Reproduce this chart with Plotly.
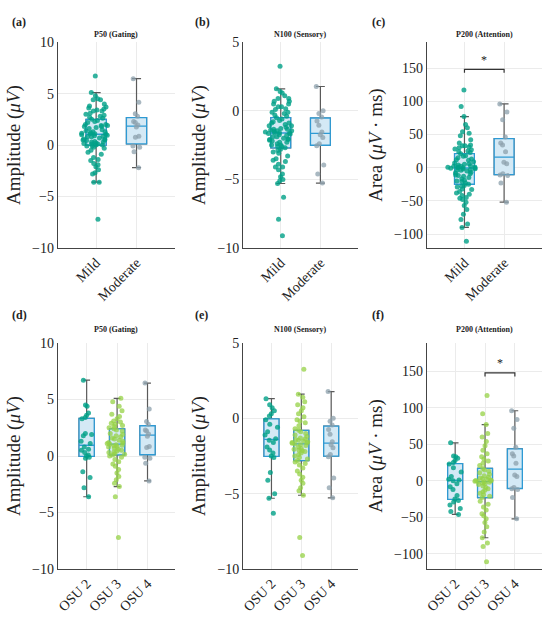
import numpy as np
import plotly.graph_objects as go

p50_osu2 = [6.7, 4.5, 4.4, 3.8, 3.6, 3.4, 3.3, 2.0, 1.9, 1.8, 1.3, 1.1, 0.8, 0.6, 0.5,
            0.3, 0.1, 0.0, -0.1, -0.2, -1.4, -1.9, -2.8, -3.6]
p50_osu3 = [5.1, 4.8, 4.4, 4.0, 3.7, 3.5, 3.3, 3.1, 3.0, 2.9, 2.8, 2.7, 2.6, 2.5, 2.4,
            2.3, 2.2, 2.0, 1.9, 1.8, 1.7, 1.6, 1.5, 1.4, 1.3, 1.2, 1.15, 1.1, 1.05, 1.0,
            0.95, 0.9, 0.85, 0.8, 0.7, 0.6, 0.5, 0.45, 0.35, 0.3, 0.2, 0.15, 0.1, 0.0,
            -0.1, -0.3, -0.5, -0.7, -0.9, -1.2, -1.5, -1.8, -2.1, -2.4, -2.7, -3.6, -7.2]
p50_osu4 = [6.45, 4.15, 3.05, 2.8, 2.3, 2.2, 1.95, 1.75, 0.85, 0.75, -0.1, -0.2, -0.65, -2.2]

n100_osu2 = [1.3, 0.9, 0.7, 0.5, 0.3, 0.15, -0.1, -0.4, -0.6, -0.9, -1.1, -1.35, -1.45,
             -1.6, -1.9, -2.1, -2.3, -2.5, -2.6, -3.6, -4.1, -5.0, -5.3, -6.3]
n100_osu3 = [3.25, 1.6, 1.4, 1.1, 0.9, 0.7, 0.5, 0.3, 0.1, -0.1, -0.2, -0.3, -0.5, -0.7,
             -0.8, -0.9, -1.0, -1.1, -1.2, -1.3, -1.35, -1.4, -1.45, -1.5, -1.55, -1.6,
             -1.62, -1.65, -1.7, -1.75, -1.8, -1.9, -2.0, -2.05, -2.1, -2.15, -2.2, -2.3,
             -2.4, -2.5, -2.6, -2.7, -2.8, -2.9, -3.0, -3.1, -3.3, -3.5, -3.7, -3.9, -4.1,
             -4.3, -4.6, -4.8, -5.1, -7.9, -9.1]
n100_osu4 = [1.77, 0.0, -0.2, -0.45, -0.75, -1.05, -1.55, -1.75, -1.95, -2.4, -2.55,
             -3.95, -4.6, -5.27]

p200_osu2 = [52, 34, 33, 31, 28, 25, 23, 18, 12, 6, 2, 1, 0, -4, -8, -12, -20, -25,
             -27, -29, -33, -38, -42, -46]
p200_osu3 = [117, 92, 77, 65, 60, 54, 48, 42, 37, 33, 30, 27, 24, 21, 17, 15, 13, 11, 9,
             7, 5, 4, 3, 2, 1, 0.5, 0, -0.5, -1, -1.5, -2, -3, -4, -5, -7, -9, -11, -13,
             -15, -17, -19, -21, -23, -28, -32, -36, -40, -45, -48, -52, -57, -63, -70,
             -78, -85, -90, -111]
p200_osu4 = [96, 84, 72, 46, 37, 34, 24, 8, 6, -9, -11, -12, -23, -52]

severity = ['Mild', 'Moderate']
osu = ['OSU 2', 'OSU 3', 'OSU 4']
titles = ['P50 (Gating)', 'N100 (Sensory)', 'P200 (Attention)']
labels = ['(a)', '(b)', '(c)', '(d)', '(e)', '(f)']

teal = 'rgba(0,160,135,0.8)'
green = 'rgba(150,210,70,0.75)'
grey = 'rgba(140,160,172,0.75)'
font = 'Liberation Serif'

fig = go.Figure()


def add_group(vals, cat, color, n, jit):
    v = np.array(vals, dtype=float)
    q1, med, q3 = np.percentile(v, [25, 50, 75])
    iqr = q3 - q1
    lo = v[v >= q1 - 1.5 * iqr].min()
    hi = v[v <= q3 + 1.5 * iqr].max()
    xa, ya = 'x' + n, 'y' + n
    # grey whiskers with caps
    fig.add_trace(go.Box(x=[cat], q1=[q1], median=[med], q3=[q3], lowerfence=[lo],
                         upperfence=[hi], width=0.5, whiskerwidth=0.45,
                         line=dict(color='#5a5a5a', width=1.2),
                         fillcolor='rgba(0,0,0,0)', xaxis=xa, yaxis=ya,
                         hoverinfo='skip', showlegend=False))
    # blue box
    fig.add_trace(go.Box(x=[cat], q1=[q1], median=[med], q3=[q3], lowerfence=[q1],
                         upperfence=[q3], width=0.5, whiskerwidth=0,
                         line=dict(color='#2e9ad4', width=1.3),
                         fillcolor='#d4e9f5', xaxis=xa, yaxis=ya,
                         hoverinfo='skip', showlegend=False))
    # jittered points
    fig.add_trace(go.Box(x=[cat] * len(v), y=v, boxpoints='all', jitter=jit, pointpos=0,
                         width=0.85, line=dict(width=0), fillcolor='rgba(0,0,0,0)',
                         marker=dict(color=color, size=5),
                         xaxis=xa, yaxis=ya, showlegend=False))


top = [(p50_osu2 + p50_osu3, p50_osu4), (n100_osu2 + n100_osu3, n100_osu4),
       (p200_osu2 + p200_osu3, p200_osu4)]
bottom = [(p50_osu2, p50_osu3, p50_osu4), (n100_osu2, n100_osu3, n100_osu4),
          (p200_osu2, p200_osu3, p200_osu4)]

for i in range(3):
    add_group(top[i][0], 'Mild', teal, str(i + 1) if i else '', 1.0)
    add_group(top[i][1], 'Moderate', grey, str(i + 1) if i else '', 0.3)
    for j, (c, jit) in enumerate([(teal, 0.55), (green, 0.85), (grey, 0.3)]):
        add_group(bottom[i][j], osu[j], c, str(i + 4), jit)

# significance brackets
for n, cats in [('3', severity), ('6', osu[1:])]:
    fig.add_trace(go.Scatter(x=[cats[0], cats[0], cats[1], cats[1]], y=[143, 148, 148, 143],
                             mode='lines', line=dict(color='#333', width=1.2),
                             xaxis='x' + n, yaxis='y' + n, hoverinfo='skip', showlegend=False))

xdom = [[0.105, 0.318], [0.442, 0.651], [0.776, 0.985]]
ydom = [[0.6, 0.932], [0.082, 0.447]]
yranges = [[-10, 10], [-10, 5], [-121, 189]]
ytitles = ['Amplitude (<i>μV</i>)', 'Amplitude (<i>μV</i>)', 'Area (<i>μV</i> · ms)']
dticks = [5, 5, 50]

layout = dict(
    width=550, height=620, margin=dict(l=0, r=0, t=0, b=0, autoexpand=False),
    paper_bgcolor='white', plot_bgcolor='white', boxmode='overlay',
    font=dict(family=font, color='#222'),
)
annotations = []
for r in range(2):
    cats = severity if r == 0 else osu
    for c in range(3):
        k = r * 3 + c + 1
        sfx = '' if k == 1 else str(k)
        layout['xaxis' + sfx] = dict(
            domain=xdom[c], anchor='y' + sfx, type='category',
            categoryorder='array', categoryarray=cats, automargin=False,
            range=[-0.95, 1.95] if r == 0 else [-0.95, 2.9],
            tickangle=-45, tickfont=dict(size=14), showline=True,
            linecolor='#444', showgrid=True, gridcolor='#ebebeb', ticks='')
        layout['yaxis' + sfx] = dict(
            domain=ydom[r], anchor='x' + sfx, range=yranges[c], dtick=dticks[c],
            tickfont=dict(size=14), showline=True, linecolor='#444', automargin=False,
            showgrid=True, gridcolor='#ebebeb', zeroline=False, ticks='',
            title=dict(text=ytitles[c], font=dict(size=19), standoff=6))
        annotations.append(dict(
            text='<b>' + titles[c] + '</b>', xref='paper', yref='paper',
            x=sum(xdom[c]) / 2, y=[0.955, 0.469][r], xanchor='center',
            showarrow=False, font=dict(size=8)))
        annotations.append(dict(
            text='<b>' + labels[k - 1] + '</b>', xref='paper', yref='paper',
            x=[0.018, 0.351, 0.673][c], y=[0.979, 0.492][r], xanchor='left',
            showarrow=False, font=dict(size=12)))

for n, xm in [('3', 0.5), ('6', 1.5)]:
    annotations.append(dict(text='*', x=xm, y=162, xref='x' + n, yref='y' + n,
                            showarrow=False, font=dict(size=12, color='#222')))

layout['annotations'] = annotations
fig.update_layout(**layout)
fig.write_html("out.html", config={'displayModeBar': False},
               post_script="document.body.style.margin='0';")
